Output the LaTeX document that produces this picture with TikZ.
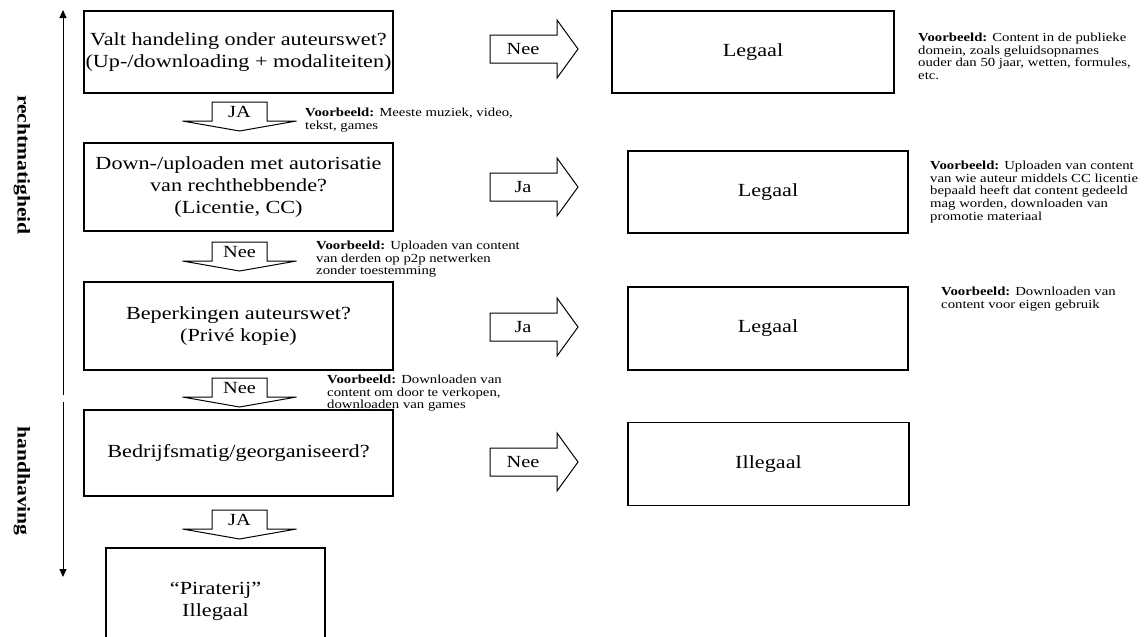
\documentclass[tikz,border=0pt]{standalone}
\usepackage{fontspec}
\setmainfont[FakeStretch=1.2]{Liberation Serif}
\usetikzlibrary{arrows.meta}
\tikzset{
  box/.style={draw, line width=1.2pt, inner sep=0pt, align=center, font=\fontsize{18.5}{22}\selectfont},
  arr/.style={draw, line width=1pt, fill=white},
  lbl/.style={inner sep=0pt, font=\fontsize{17}{17}\selectfont},
  note/.style={anchor=north west, inner sep=0pt, align=left, font=\fontsize{12.3}{12.6}\selectfont},
  side/.style={rotate=-90, inner sep=0pt, font=\bfseries\fontsize{18}{18}\selectfont},
  axis/.style={line width=1pt, -{Triangle[width=7pt,length=8pt]}},
  pics/downarr/.style={code={
    \draw[arr] (-27.5,0) -- (27.5,0) -- (27.5,19) -- (57,19) -- (0,29) -- (-57,19) -- (-27.5,19) -- cycle;
    \node[lbl] (-t) at (0,10) {#1};
  }},
  pics/rightarr/.style={code={
    \draw[arr] (0,-14) -- (67,-14) -- (67,-29) -- (88,0) -- (67,29) -- (67,14) -- (0,14) -- cycle;
    \node[lbl] (-t) at (33,0) {#1};
  }}
}
\begin{document}
\begin{tikzpicture}[x=1pt,y=-1pt]
\useasboundingbox (0,0) rectangle (1146,637);

% left column boxes
\node[box, minimum width=309pt, minimum height=82pt] (b1) at (238.5,52) {Valt handeling onder auteurswet?\\(Up-/downloading + modaliteiten)};
\node[box, minimum width=309pt, minimum height=88pt] (b2) at (238.5,187) {Down-/uploaden met autorisatie\\van rechthebbende?\\(Licentie, CC)};
\node[box, minimum width=309pt, minimum height=88pt] (b3) at (238.5,326) {Beperkingen auteurswet?\\(Privé kopie)};
\node[box, minimum width=309pt, minimum height=86pt] (b4) at (238.5,453) {Bedrijfsmatig/georganiseerd?};
\draw[line width=1.2pt] (106,640) -- (106,548) -- (325,548) -- (325,640);
\node[box, draw=none] (b5) at (215.5,601) {“Piraterij”\\Illegaal};

% right column boxes
\node[box, minimum width=282pt, minimum height=82pt] (r1) at (753,52) {Legaal};
\node[box, minimum width=280pt, minimum height=82pt] (r2) at (768,192) {Legaal};
\node[box, minimum width=280pt, minimum height=83pt] (r3) at (768,328.5) {Legaal};
\node[box, minimum width=281pt, minimum height=83pt] (r4) at (768.5,464) {Illegaal};

% down arrows
\pic (d1) at (239.5,102) {downarr=JA};
\pic (d2) at (239.5,242) {downarr=Nee};
\pic (d3) at (239.5,378) {downarr=Nee};
\pic (d4) at (239.5,510) {downarr=JA};

% right arrows
\pic (h1) at (490,49) {rightarr=Nee};
\pic (h2) at (490,187) {rightarr=Ja};
\pic (h3) at (490,327) {rightarr=Ja};
\pic (h4) at (490,462) {rightarr=Nee};

% notes
\node[note] (n1) at (918,33) {\textbf{Voorbeeld:} Content in de publieke\\domein, zoals geluidsopnames\\ouder dan 50 jaar, wetten, formules,\\etc.};
\node[note] (n2) at (930,161) {\textbf{Voorbeeld:} Uploaden van content\\van wie auteur middels CC licentie\\bepaald heeft dat content gedeeld\\mag worden, downloaden van\\promotie materiaal};
\node[note] (n3) at (941,287) {\textbf{Voorbeeld:} Downloaden van\\content voor eigen gebruik};
\node[note] (n4) at (305,108) {\textbf{Voorbeeld:} Meeste muziek, video,\\tekst, games};
\node[note] (n5) at (316,241) {\textbf{Voorbeeld:} Uploaden van content\\van derden op p2p netwerken\\zonder toestemming};
\node[note] (n6) at (327,375) {\textbf{Voorbeeld:} Downloaden van\\content om door te verkopen,\\downloaden van games};

% side axes
\coordinate (u0) at (63,395);
\coordinate (u1) at (63,10);
\coordinate (v0) at (63,402);
\coordinate (v1) at (63,577);
\draw[axis] (u0) -- (u1);
\draw[axis] (v0) -- (v1);
\node[side] (s1) at (22,165) {rechtmatigheid};
\node[side] (s2) at (22,481) {handhaving};
\end{tikzpicture}
\end{document}
